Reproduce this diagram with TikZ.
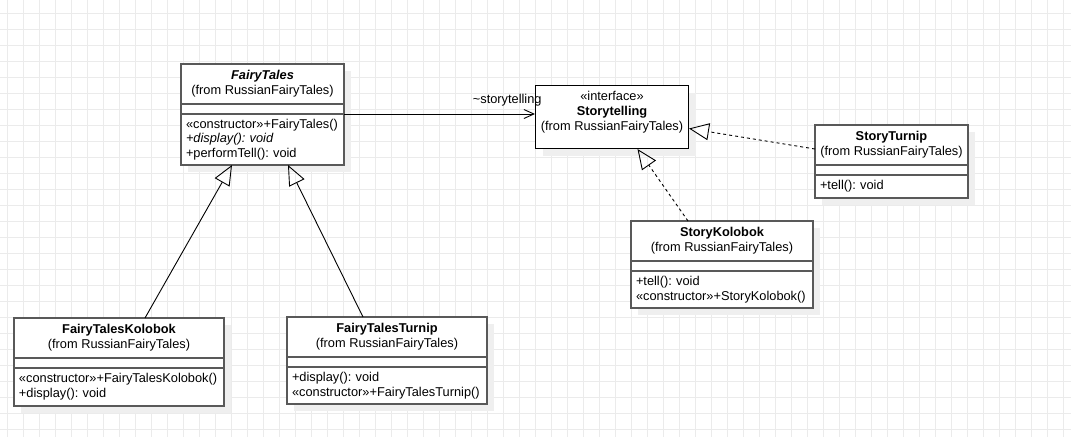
\documentclass[tikz,border=0pt]{standalone}
\usepackage{fontspec}
\setmainfont{Liberation Sans}
\frenchspacing
\usetikzlibrary{positioning,arrows.meta,shadows}
\definecolor{borde}{HTML}{595959}
\definecolor{rejilla}{HTML}{EBEBEB}
\definecolor{sombra}{HTML}{EFEFEF}

\begin{document}
\begin{tikzpicture}[x=1pt, y=-1pt, font=\fontsize{12.8}{14.8}\selectfont,
      caja/.style={draw=borde, line width=1.6pt, fill=white, outer sep=0pt,
                drop shadow={shadow xshift=7pt, shadow yshift=-7pt, fill=sombra, opacity=1}},
      cab/.style={caja, anchor=north west, align=center, minimum height=40pt, inner xsep=2pt},
      vacio/.style={caja, below=0pt of #1, minimum width=0pt, minimum height=10pt},
      miembros/.style={caja, below=0pt of #1, align=left, inner xsep=5pt, inner ysep=0pt},
      interfaz/.style={draw, line width=1pt, fill=white, anchor=north west, align=center,
                minimum width=153pt, minimum height=63pt, inner sep=0pt,
                drop shadow={shadow xshift=7pt, shadow yshift=-7pt, fill=sombra, opacity=1}},
      gen/.style={-{Triangle[open, length=20pt, width=17pt]}, line width=0.9pt},
      real/.style={gen, dash pattern=on 3pt off 3pt},
      asoc/.style={-{Straight Barb[length=10pt, width=9pt]}, line width=0.9pt}]
    \useasboundingbox (0,0) rectangle (1071,437);
    \fill[white] (0,0) rectangle (1071,437);
    % rejilla de fondo
    \foreach \x in {7.5,23.5,...,1071} \draw[rejilla, line width=0.8pt] (\x,0) -- (\x,437);
    \foreach \y in {13.5,29.5,...,437} \draw[rejilla, line width=0.8pt] (0,\y) -- (1071,\y);

    % FairyTales (abstracta)
    \node[cab, minimum width=163pt] (ft) at (181,64) {\textbf{\textit{FairyTales}}\\(from RussianFairyTales)};
    \node[vacio=ft, minimum width=163pt] (ftv) {};
    \node[miembros=ftv, text width=153pt, minimum height=51pt] (ftm)
      {«constructor»+FairyTales()\\\textit{+display(): void}\\+performTell(): void};

    % interfaz
    \node[interfaz] (st) at (535,85) {«interface»\\\textbf{Storytelling}\\(from RussianFairyTales)\\[-2pt]};

    % StoryTurnip
    \node[cab, minimum width=153pt] (stt) at (815,125) {\textbf{StoryTurnip}\\(from RussianFairyTales)};
    \node[vacio=stt, minimum width=153pt] (sttv) {};
    \node[miembros=sttv, text width=143pt, minimum height=23pt] (sttm) {+tell(): void};

    % StoryKolobok
    \node[cab, minimum width=182pt] (sk) at (631,221) {\textbf{StoryKolobok}\\(from RussianFairyTales)};
    \node[vacio=sk, minimum width=182pt] (skv) {};
    \node[miembros=skv, text width=172pt, minimum height=37pt] (skm)
      {+tell(): void\\«constructor»+StoryKolobok()};

    % FairyTalesKolobok
    \node[cab, minimum width=210pt] (ftk) at (14,318) {\textbf{FairyTalesKolobok}\\(from RussianFairyTales)};
    \node[vacio=ftk, minimum width=210pt] (ftkv) {};
    \node[miembros=ftkv, text width=200pt, minimum height=38pt] (ftkm)
      {«constructor»+FairyTalesKolobok()\\+display(): void};

    % FairyTalesTurnip
    \node[cab, minimum width=200pt] (ftt) at (287,317) {\textbf{FairyTalesTurnip}\\(from RussianFairyTales)};
    \node[vacio=ftt, minimum width=200pt] (fttv) {};
    \node[miembros=fttv, text width=190pt, minimum height=37pt] (fttm)
      {+display(): void\\«constructor»+FairyTalesTurnip()};

    \draw[asoc] (ftm.north east) -- (ftm.north east -| st.west)
      node[above left, inner sep=1pt, xshift=8pt, yshift=6pt] {\textasciitilde storytelling};
    \draw[gen] ([xshift=26pt]ftk.north) -- ([xshift=-30.5pt]ftm.south);
    \draw[gen] ([xshift=-24pt]ftt.north) -- ([xshift=25.5pt]ftm.south);
    \draw[real] ([xshift=-34pt]sk.north) -- ([xshift=25.5pt]st.south);
    \draw[real] ([yshift=-4pt]stt.west) -- ([yshift=-11.5pt]st.east);
  \end{tikzpicture}
\end{document}
